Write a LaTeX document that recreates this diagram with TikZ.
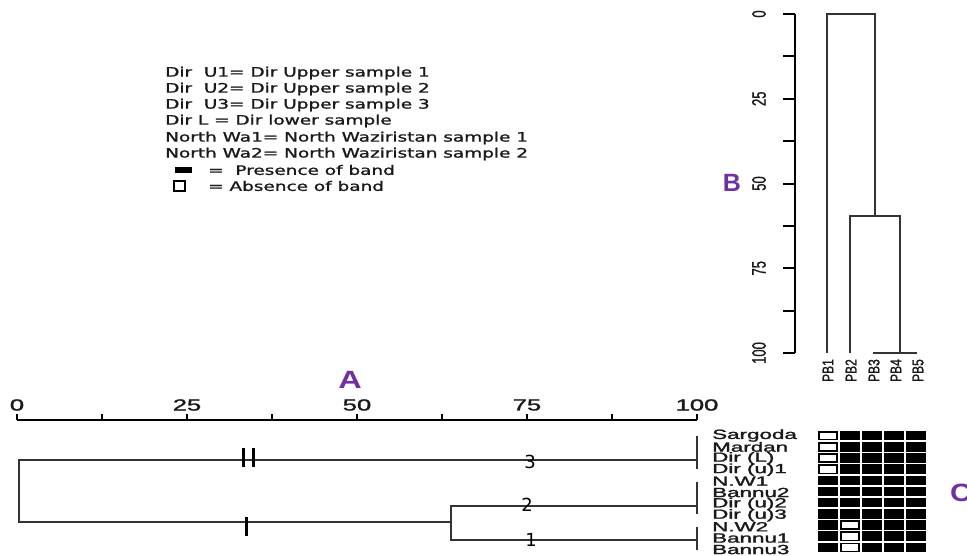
\documentclass[tikz,border=0pt]{standalone}
\usepackage{fontspec}
\usepackage{graphicx}
\setmainfont{Liberation Sans}
\newfontfamily\legfont[FakeBold=1.2]{DejaVu Sans}
\newfontfamily\numfont[FakeBold=1.5]{Liberation Sans}
\newfontfamily\clabfont{DejaVu Sans}
\definecolor{lpurple}{HTML}{7030A0}
\definecolor{ln}{HTML}{333333}
\definecolor{txt}{HTML}{1A1A1A}
\begin{document}
\begin{tikzpicture}[x=1pt,y=-1pt,
  dline/.style={draw=ln, line width=1.5pt},
  cbar/.style={draw=ln, line width=2pt},
  tickmark/.style={draw=black, line width=3pt},
  axline/.style={draw=black, line width=2pt},
  letter/.style={text=lpurple, font=\fontsize{25}{25}\selectfont\bfseries, inner sep=0},
  leg/.style={anchor=west, inner sep=0, text=txt, font=\legfont\fontsize{13}{13}\selectfont},
  samp/.style={anchor=west, inner sep=0, text=txt, font=\numfont\fontsize{14}{14}\selectfont},
  tnum/.style={inner sep=0, text=txt, font=\numfont\fontsize{16}{16}\selectfont},
  bnum/.style={inner sep=0, rotate=90, text=txt, font=\numfont\fontsize{13}{13}\selectfont},
  pblab/.style={inner sep=0, rotate=90, anchor=east, text=txt, font=\numfont\fontsize{12}{12}\selectfont},
  clab/.style={inner sep=0, text=black, font=\clabfont\fontsize{18}{18}\selectfont},
  absent/.style={fill=white, draw=black, line width=1pt}
]
\useasboundingbox (0,0) rectangle (967,555);

% ---------- legend ----------
\node[leg] (l1) at (165,73)  {\scalebox{1.42}[1]{Dir\ \ U1= Dir Upper sample 1}};
\node[leg] (l2) at (165,89)  {\scalebox{1.42}[1]{Dir\ \ U2= Dir Upper sample 2}};
\node[leg] (l3) at (165,105) {\scalebox{1.42}[1]{Dir\ \ U3= Dir Upper sample 3}};
\node[leg] (l4) at (165,121) {\scalebox{1.42}[1]{Dir L\ = Dir lower sample}};
\node[leg] (l5) at (165,138) {\scalebox{1.42}[1]{North Wa1= North Waziristan sample 1}};
\node[leg] (l6) at (165,154) {\scalebox{1.42}[1]{North Wa2= North Waziristan sample 2}};
\fill[black] (175,167) rectangle (192,173);
\node[leg] (l7) at (208,170) {\scalebox{1.42}[1]{=\ \ Presence of band}};
\draw[black, line width=1.3pt] (174,181) rectangle (185,191);
\node[leg] (l8) at (208,186) {\scalebox{1.42}[1]{= Absence of band}};

% ---------- panel letters ----------
\node[letter] (A) at (350,380) {\scalebox{1.3}[1]{A}};
\node[letter] (B) at (732,183) {B};
\node[letter, anchor=west] (C) at (950,493) {\scalebox{1.2}[1]{C}};

% ---------- top axis of A ----------
\draw[axline] (17,420) -- (697,420);
\foreach \k in {0,...,8} { \draw[axline] (17+85*\k,420) -- (17+85*\k,414); }
\foreach \k/\v in {0/0,2/25,4/50,6/75,8/100} {
  \node[tnum] (t\v) at (17+85*\k,405) {\scalebox{1.6}[1]{\v}};
}

% ---------- dendrogram A ----------
\coordinate (r3) at (697,460);
\coordinate (rt) at (19,460);
\coordinate (rb) at (19,522);
\coordinate (j12) at (451,522);
\coordinate (j2) at (451,506);
\coordinate (j1) at (451,540);
\coordinate (e2) at (697,506);
\coordinate (e1) at (697,540);
\draw[dline] (r3) -- (rt) -- (rb) -- (j12);
\draw[dline] (e2) -- (j2) -- (j1) -- (e1);
\draw[cbar] (697,436) -- (697,469);
\draw[cbar] (697,482) -- (697,514);
\draw[cbar] (697,527) -- (697,550);
\draw[tickmark] (243,448) -- (243,467);
\draw[tickmark] (253,448) -- (253,467);
\draw[tickmark] (246,517) -- (246,536);
\node[clab] (n3) at (530,462) {3};
\node[clab] (n2) at (527,505) {2};
\node[clab] (n1) at (531,540) {1};

% ---------- sample labels ----------
\foreach \i/\s in {0/Sargoda,1/Mardan,2/Dir (L),3/Dir (u)1,4/N.W1,5/Bannu2,6/Dir (u)2,7/Dir (u)3,8/N.W2,9/Bannu1,10/Bannu3} {
  \node[samp] (s\i) at (712,435.5+11.4*\i) {\scalebox{1.6}[0.95]{\s}};
}

% ---------- band grid ----------
\foreach \i in {0,...,10} {
  \foreach \j in {0,...,4} {
    \fill[black] (818+22*\j,430.8+11.18*\i) rectangle (838+22*\j,440.4+11.18*\i);
  }
}
\foreach \i in {0,...,3} {
  \draw[absent] (819.5,432+11.18*\i) rectangle (836.5,439.5+11.18*\i);
}
\foreach \i in {8,...,10} {
  \draw[absent] (841.5,432+11.18*\i) rectangle (858.5,439.5+11.18*\i);
}

% ---------- panel B axis ----------
\draw[black, line width=2.5pt] (795,14) -- (795,353);
\foreach \k in {0,...,8} { \draw[black, line width=2pt] (795,14+42.375*\k) -- (783,14+42.375*\k); }
\foreach \k/\v in {0/0,2/25,4/50,6/75,8/100} {
  \node[bnum] (b\v) at (759,14+42.375*\k) {\scalebox{1}[1.5]{\v}};
}

% ---------- dendrogram B ----------
\coordinate (p1b) at (827,353);
\coordinate (p1t) at (827,14);
\coordinate (p2b) at (850,353);
\coordinate (p2t) at (850,216);
\coordinate (ht) at (875,14);
\coordinate (hb) at (875,216);
\coordinate (q1) at (900,216);
\coordinate (q2) at (900,353);
\coordinate (bl) at (873,353);
\coordinate (br) at (917,353);
\draw[dline] (p1b) -- (p1t) -- (ht) -- (hb);
\draw[dline] (p2b) -- (p2t) -- (q1) -- (q2);
\draw[dline] (bl) -- (br);
\foreach \x/\n in {828/1,851/2,874/3,896/4,918/5} {
  \node[pblab] (pb\n) at (\x,359) {\scalebox{1}[1.3]{PB\n}};
}
\end{tikzpicture}
\end{document}
